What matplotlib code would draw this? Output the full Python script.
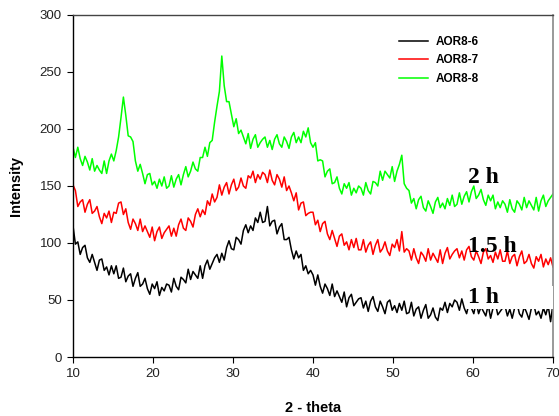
import numpy as np
import matplotlib
matplotlib.use("Agg")
import matplotlib.pyplot as plt
from matplotlib.patches import Rectangle

# scan grid (degrees 2-theta, 0.3 deg step)
two_theta = np.round(np.arange(10.0, 70.0001, 0.3), 1)

series_names = ["AOR8-6", "AOR8-7", "AOR8-8"]
series_colors = ["#000000", "#ff0000", "#00ff00"]
time_labels = ["1 h", "1.5 h", "2 h"]

aor8_6 = [
    115, 99, 101, 90, 96, 98, 87, 83, 90, 83,
    76, 85, 86, 76, 79, 72, 80, 73, 80, 69,
    70, 78, 66, 71, 73, 62, 69, 74, 62, 64,
    69, 60, 55, 64, 60, 66, 54, 61, 58, 64,
    63, 57, 69, 62, 59, 70, 68, 65, 77, 68,
    75, 72, 69, 80, 69, 80, 85, 77, 82, 87,
    90, 83, 91, 85, 96, 102, 95, 94, 105, 103,
    99, 111, 116, 109, 115, 111, 122, 118, 127, 118,
    119, 132, 115, 119, 120, 108, 114, 117, 103, 103,
    105, 94, 86, 93, 87, 90, 76, 80, 73, 76,
    72, 63, 72, 62, 56, 64, 60, 54, 64, 53,
    58, 53, 48, 57, 44, 52, 55, 45, 48, 51,
    52, 43, 49, 40, 49, 53, 44, 40, 49, 44,
    38, 48, 50, 41, 45, 39, 47, 41, 49, 38,
    39, 48, 36, 42, 44, 34, 41, 46, 34, 37,
    43, 35, 32, 43, 41, 48, 39, 47, 44, 50,
    48, 41, 51, 43, 38, 47, 43, 38, 48, 38,
    44, 40, 36, 46, 34, 43, 47, 37, 40, 43,
    45, 36, 42, 34, 43, 47, 38, 35, 44, 39,
    33, 43, 46, 37, 40, 34, 43, 37, 45, 31,
    47,
]

aor8_7 = [
    151, 146, 132, 136, 138, 127, 134, 138, 126, 128,
    132, 123, 117, 126, 122, 128, 118, 127, 126, 135,
    136, 125, 130, 118, 112, 121, 117, 111, 121, 110,
    115, 110, 105, 114, 102, 110, 114, 104, 109, 112,
    115, 106, 113, 106, 116, 121, 113, 111, 122, 119,
    114, 125, 130, 123, 129, 125, 137, 133, 143, 136,
    140, 151, 142, 149, 153, 143, 151, 156, 146, 149,
    157, 150, 148, 159, 157, 163, 153, 160, 156, 162,
    160, 153, 164, 155, 151, 160, 156, 149, 158, 146,
    150, 144, 137, 144, 129, 135, 136, 124, 126, 127,
    127, 116, 120, 110, 117, 119, 108, 103, 111, 104,
    97, 106, 108, 98, 101, 94, 103, 96, 104, 94,
    94, 103, 92, 98, 101, 90, 98, 103, 92, 95,
    101, 93, 89, 99, 96, 103, 93, 110, 92, 95,
    93, 85, 95, 87, 82, 92, 89, 84, 95, 85,
    91, 87, 83, 94, 82, 91, 96, 86, 90, 93,
    95, 87, 93, 85, 94, 97, 88, 85, 93, 88,
    82, 92, 95, 86, 89, 83, 92, 86, 94, 84,
    84, 93, 82, 88, 90, 80, 88, 93, 82, 84,
    90, 82, 78, 88, 84, 90, 79, 86, 81, 87,
    79,
]

aor8_8 = [
    184, 175, 184, 174, 168, 176, 171, 164, 174, 163,
    168, 164, 161, 172, 161, 172, 178, 172, 181, 193,
    210, 228, 212, 194, 193, 189, 172, 163, 169, 161,
    152, 160, 161, 151, 154, 148, 156, 150, 158, 148,
    150, 159, 149, 156, 160, 151, 160, 167, 158, 163,
    171, 165, 163, 175, 175, 184, 176, 188, 190, 206,
    220, 233, 264, 238, 224, 224, 213, 202, 209, 196,
    199, 193, 187, 196, 183, 191, 195, 184, 188, 191,
    193, 184, 190, 182, 191, 195, 187, 184, 193, 189,
    183, 193, 197, 188, 193, 188, 198, 193, 201, 188,
    184, 188, 172, 173, 172, 158, 163, 165, 152, 153,
    158, 148, 143, 152, 148, 153, 142, 148, 144, 150,
    148, 142, 153, 146, 143, 154, 153, 150, 163, 155,
    163, 160, 157, 167, 154, 163, 169, 177, 152, 148,
    146, 135, 139, 130, 138, 141, 131, 128, 137, 132,
    126, 136, 140, 131, 135, 130, 139, 133, 142, 132,
    134, 144, 134, 141, 145, 136, 145, 150, 139, 142,
    147, 138, 133, 142, 137, 142, 130, 136, 131, 137,
    134, 127, 138, 130, 127, 137, 134, 129, 140, 131,
    137, 133, 129, 140, 128, 137, 142, 132, 137, 140,
    143,
]

# label anchors (2-theta, intensity) for the reaction-time annotations
time_label_pos = [(59.4, 47), (59.4, 92), (59.4, 153)]

x_ticks = [10, 20, 30, 40, 50, 60, 70]
y_ticks = [0, 50, 100, 150, 200, 250, 300]

sans = "Liberation Sans"
serif = "Liberation Serif"

fig = plt.figure(figsize=(5.59, 4.16), dpi=100)
ax = fig.add_axes([73 / 559, 1 - 357 / 416, 480 / 559, 342 / 416])

for ys, name, col in zip([aor8_6, aor8_7, aor8_8], series_names, series_colors):
    ax.plot(two_theta, ys, color=col, lw=1.1, label=name, zorder=2)

ax.set_xlim(10, 70)
ax.set_ylim(0, 300)
ax.set_xticks(x_ticks)
ax.set_yticks(y_ticks)
ax.tick_params(direction="out", length=4, width=0.8, color="black",
               labelsize=9.5, labelcolor="#222222", pad=4)
for lbl in ax.get_xticklabels() + ax.get_yticklabels():
    lbl.set_fontfamily(sans)

for side in ("left", "bottom"):
    ax.spines[side].set_color("black")
    ax.spines[side].set_linewidth(1.0)
ax.spines["top"].set_color("#444444")
ax.spines["right"].set_color("#888888")
ax.spines["top"].set_linewidth(1.0)
ax.spines["right"].set_linewidth(1.2)

ax.set_xlabel("2 - theta", fontfamily=sans, fontweight="bold", fontsize=10.5, labelpad=15)
ax.set_ylabel("Intensity", fontfamily=sans, fontweight="bold", fontsize=10.5, labelpad=12)

# white backing behind the lowest annotation
ax.add_patch(Rectangle((59.25, 42), 10.75, 20, facecolor="white", edgecolor="none",
                       zorder=3, clip_on=True))
for txt, (tx, ty) in zip(time_labels, time_label_pos):
    ax.text(tx, ty, txt, fontfamily=serif, fontweight="bold", fontsize=17,
            ha="left", va="baseline", zorder=4)

ax.legend(loc="upper left", bbox_to_anchor=(399 / 559, 1 - 36 / 416),
          bbox_transform=fig.transFigure, frameon=False,
          prop={"family": sans, "weight": "bold", "size": 8.5},
          handlelength=2.45, handletextpad=0.7, labelspacing=0.55,
          borderpad=0, borderaxespad=0)

fig.savefig("out.png", dpi=100)
